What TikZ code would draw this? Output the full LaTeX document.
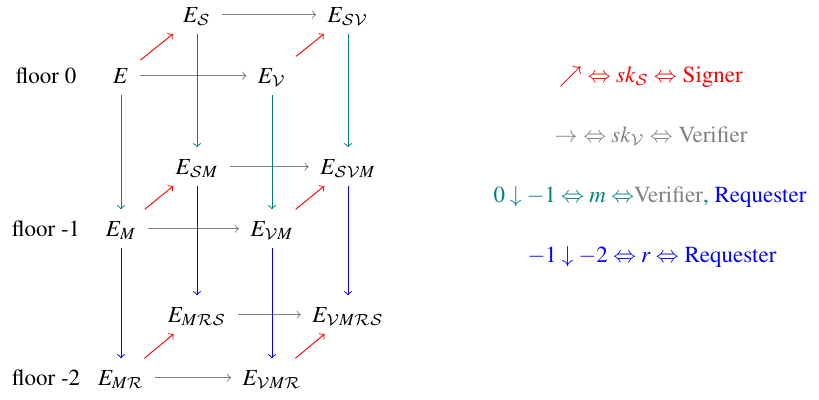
\documentclass[tikz,border=0pt]{standalone}
\usepackage[T1]{fontenc}
\usepackage{mathptmx}
\DeclareMathAlphabet{\mathcal}{OMS}{cmsy}{m}{n}
\begin{document}
\begin{tikzpicture}[x=0.4348pt,y=-0.4348pt,
  obj/.style={anchor=base,text height=8.4pt,text depth=2pt,inner xsep=4.8pt,inner ysep=3pt},
  lbl/.style={anchor=base,inner sep=0pt},
  sarr/.style={->,red,line width=0.4pt},
  varr/.style={->,gray,line width=0.4pt},
  marr/.style={->,teal,line width=0.4pt},
  rarr/.style={->,blue,line width=0.4pt}]
\useasboundingbox (0,0) rectangle (819,399);
% back layer
\node[obj] (ES)    at (197,22)  {$E_{\mathcal{S}}$};
\node[obj] (ESV)   at (348,22)  {$E_{\mathcal{S}\mathcal{V}}$};
\node[obj] (ESM)   at (197,174) {$E_{\mathcal{S}M}$};
\node[obj] (ESVM)  at (348,174) {$E_{\mathcal{S}\mathcal{V}M}$};
\node[obj] (EMRS)  at (197,322) {$E_{M\mathcal{R}\mathcal{S}}$};
\node[obj] (EVMRS) at (348,322) {$E_{\mathcal{V}M\mathcal{R}\mathcal{S}}$};
% front layer
\node[obj] (E)     at (121,83)  {$E$};
\node[obj] (EV)    at (272,83)  {$E_{\mathcal{V}}$};
\node[obj] (EM)    at (121,236) {$E_{M}$};
\node[obj] (EVM)   at (272,236) {$E_{\mathcal{V}M}$};
\node[obj] (EMR)   at (121,385) {$E_{M\mathcal{R}}$};
\node[obj] (EVMR)  at (272,385) {$E_{\mathcal{V}M\mathcal{R}}$};
% floor labels
\node[lbl] (f0) at (46,83)  {floor 0};
\node[lbl] (f1) at (46,236) {floor -1};
\node[lbl] (f2) at (46,385) {floor -2};
% horizontal (verifier) arrows
\draw[varr] (ES) -- (ESV);
\draw[varr] (E) -- (EV);
\draw[varr] (ESM) -- (ESVM);
\draw[varr] (EM) -- (EVM);
\draw[varr] (EMRS) -- (EVMRS);
\draw[varr] (EMR) -- (EVMR);
% diagonal (signer) arrows
\draw[sarr] (E) -- (ES);
\draw[sarr] (EV) -- (ESV);
\draw[sarr] (EM) -- (ESM);
\draw[sarr] (EVM) -- (ESVM);
\draw[sarr] (EMR) -- (EMRS);
\draw[sarr] (EVMR) -- (EVMRS);
% floor 0 -> -1
\draw[marr] (E) -- (EM);
\draw[marr] (ES) -- (ESM);
\draw[marr] (EV) -- (EVM);
\draw[marr] (ESV) -- (ESVM);
% floor -1 -> -2
\draw[rarr] (EM) -- (EMR);
\draw[rarr] (ESM) -- (EMRS);
\draw[rarr] (EVM) -- (EVMR);
\draw[rarr] (ESVM) -- (EVMRS);
% legend
\node[lbl,text=red] (l1) at (651,82) {$\nearrow$ $\Leftrightarrow sk_{\mathcal{S}}\Leftrightarrow$ Signer};
\node[lbl,text=gray] (l2) at (651,142) {$\rightarrow$ $\Leftrightarrow sk_{\mathcal{V}}\Leftrightarrow$ Verifier};
\node[lbl,text=teal] (l3) at (650,202) {$0\downarrow-1\Leftrightarrow m\Leftrightarrow$\textcolor{gray}{Verifier}, \textcolor{blue}{Requester}};
\node[lbl,text=blue] (l4) at (652,262) {$-1\downarrow-2\Leftrightarrow r\Leftrightarrow$ Requester};
\end{tikzpicture}
\end{document}
